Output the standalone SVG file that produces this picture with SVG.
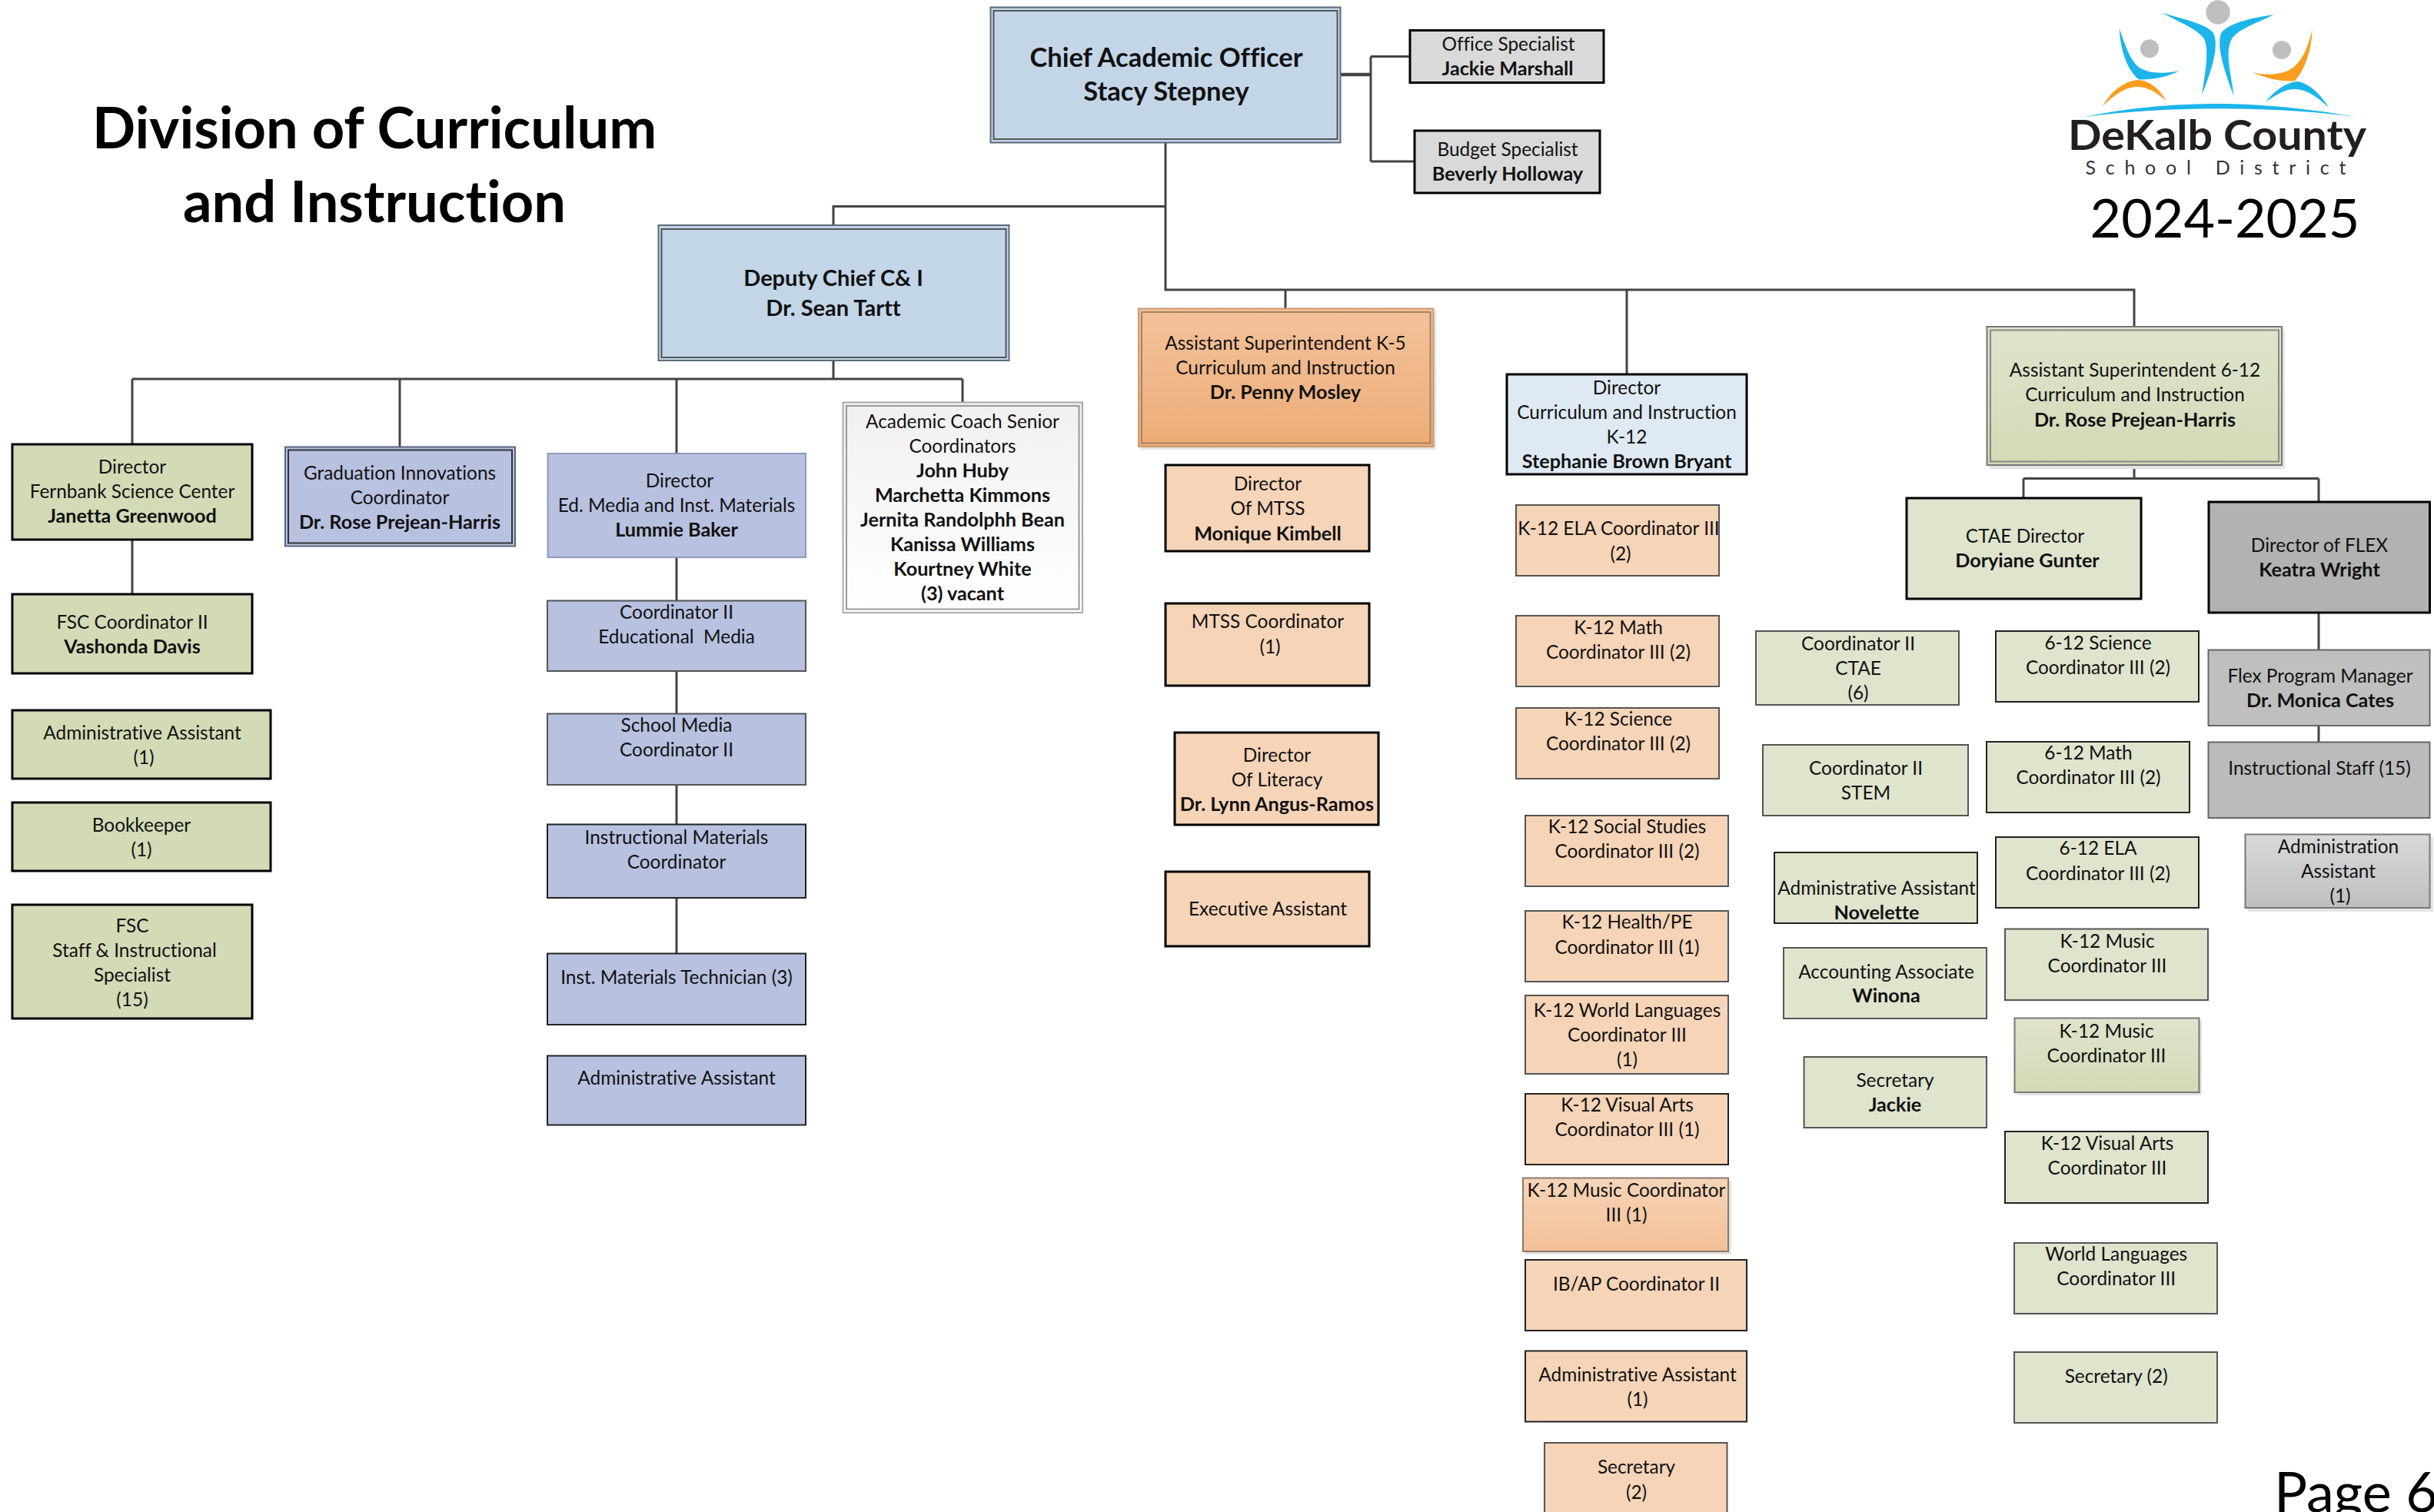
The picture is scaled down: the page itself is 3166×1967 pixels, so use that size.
<svg xmlns="http://www.w3.org/2000/svg" width="3166" height="1967" viewBox="0 0 3166 1967">
<style>
text{font-family:Lato,"Carlito","Open Sans",sans-serif;font-size:24.4px;fill:#111;text-anchor:middle;font-variant-ligatures:none}
.b{font-weight:700;font-size:25.2px}
.top{font-size:34.5px;font-weight:700}
.dep{font-size:29px;font-weight:700}
.sm{stroke:#000;stroke-width:3}
.th{stroke:#555;stroke-width:2}
.thb{stroke:#222;stroke-width:2}
.inner{fill:none;stroke:#555;stroke-width:2}
.sh{fill:#e4e4e4}
.pe{fill:#F6D4B8}
.gr{fill:#DFE4CD}
.ol{fill:#D3DBB6}
.pu{fill:#B8C1E0}
.c path{fill:none;stroke:#444;stroke-width:3}
.c .w{stroke-width:4.5}
.logo-b{fill:#1CB5EA}
.logo-o{fill:#F99D1F}
.logo-g{fill:#BCBEC0}
</style>
<defs>
<linearGradient id="gK5" x1="0" y1="0" x2="0" y2="1"><stop offset="0" stop-color="#F3C29B"/><stop offset="1" stop-color="#EDAC77"/></linearGradient>
<linearGradient id="g612" x1="0" y1="0" x2="0" y2="1"><stop offset="0" stop-color="#DFE4CD"/><stop offset="1" stop-color="#D2DAB5"/></linearGradient>
<linearGradient id="gGrey" x1="0" y1="0" x2="0" y2="1"><stop offset="0" stop-color="#D9D9D9"/><stop offset="1" stop-color="#BFBFBF"/></linearGradient>
<linearGradient id="gPe" x1="0" y1="0" x2="0" y2="1"><stop offset="0" stop-color="#F6D4B8"/><stop offset="1" stop-color="#F2C097"/></linearGradient>
<linearGradient id="gWh" x1="0" y1="0" x2="0" y2="1"><stop offset="0" stop-color="#F0F0F0"/><stop offset="1" stop-color="#FFFFFF"/></linearGradient>
</defs>

<text id="title1" class="b" x="487" y="193" style="font-size:74px;fill:#000">Division of Curriculum</text>
<text id="title2" class="b" x="487" y="289" style="font-size:74px;fill:#000">and Instruction</text>

<g id="connectors" class="c">
<path class="w" d="M1744 97H1783"/>
<path d="M1783 73.5V210M1783 73.5H1834M1783 210H1840"/>
<path d="M1516 186V377H2776V425M1516 268.5H1084V293"/>
<path d="M1672 377V401M2116 377V486"/>
<path d="M1084 469V493M172 493H1252"/>
<path d="M172 493V577M520 493V581M880 493V589M1252 493V523"/>
<path d="M172 702V772"/>
<path d="M880 725V781M880 873V928M880 1021V1072M880 1168V1240"/>
<path d="M2776 605V622.5M2632 622.5H3016M2632 622.5V647M3016 622.5V652"/>
<path d="M3016 797V845M3016 944V965"/>
</g>

<g id="n-cao"><rect x="1288.500" y="9.500" width="455" height="176" fill="#C3D6E8" stroke="#5a6a7a" stroke-width="2"/><rect class="inner" x="1292.500" y="14" width="447" height="167"/><text class="top" x="1517" y="87">Chief Academic Officer</text><text class="top" x="1517" y="131">Stacy Stepney</text></g>
<g id="n-office"><rect class="sm" x="1834" y="39.500" width="252" height="68" fill="#D9D9D9"/><text x="1962" y="66">Office Specialist</text><text class="b" x="1961" y="98">Jackie Marshall</text></g>
<g id="n-budget"><rect class="sm" x="1840" y="170" width="241" height="81" fill="#D9D9D9"/><text x="1961" y="203">Budget Specialist</text><text class="b" x="1961" y="235">Beverly Holloway</text></g>
<g id="n-deputy"><rect x="856.500" y="293" width="456" height="176" fill="#C3D6E8" stroke="#5a6a7a" stroke-width="2"/><rect class="inner" x="860.500" y="298" width="448" height="167"/><text class="dep" x="1084" y="372">Deputy Chief C&amp; I</text><text class="dep" x="1084" y="411">Dr. Sean Tartt</text></g>

<g id="n-fernbank"><rect class="sm ol" x="16" y="578" width="312" height="124"/><text x="172" y="616">Director</text><text x="172" y="648">Fernbank Science Center</text><text class="b" x="172" y="680">Janetta Greenwood</text></g>
<g id="n-fsc2"><rect class="sm ol" x="16" y="773" width="312" height="103"/><text x="172" y="817.500">FSC Coordinator II</text><text class="b" x="172" y="849.500">Vashonda Davis</text></g>
<g id="n-fadmin"><rect class="sm ol" x="16" y="924" width="336" height="89"/><text x="185" y="961.500">Administrative Assistant</text><text x="187" y="993.500">(1)</text></g>
<g id="n-book"><rect class="sm ol" x="16" y="1044" width="336" height="89"/><text x="184" y="1081.700">Bookkeeper</text><text x="184" y="1113.700">(1)</text></g>
<g id="n-fstaff"><rect class="sm ol" x="16" y="1177" width="312" height="148"/><text x="172" y="1212.600">FSC</text><text x="175" y="1244.600">Staff &amp; Instructional</text><text x="172" y="1276.600">Specialist</text><text x="172" y="1308.600">(15)</text></g>

<g id="n-grad"><rect class="pu" x="371" y="581.500" width="299" height="129" stroke="#5a6480" stroke-width="2"/><rect class="inner" x="375" y="585.500" width="291" height="121" style="stroke:#333"/><text x="520" y="623.500">Graduation Innovations</text><text x="520" y="656">Coordinator</text><text class="b" x="520" y="688">Dr. Rose Prejean-Harris</text></g>
<g id="n-edmedia"><rect class="pu" x="712.500" y="590" width="335.500" height="135" stroke="#8e99bb" stroke-width="2"/><text x="884" y="634">Director</text><text x="880" y="666">Ed. Media and Inst. Materials</text><text class="b" x="880" y="698">Lummie Baker</text></g>
<g id="n-coored"><rect class="pu th" x="712" y="781.500" width="336" height="91.500"/><text x="880" y="804.500">Coordinator II</text><text x="880" y="836.500" xml:space="preserve">Educational  Media</text></g>
<g id="n-school"><rect class="pu th" x="712" y="928.500" width="336" height="92.500"/><text x="880" y="952">School Media</text><text x="880" y="984">Coordinator II</text></g>
<g id="n-instmat"><rect class="pu thb" x="712" y="1072.500" width="336" height="95.500"/><text x="880" y="1097.700">Instructional Materials</text><text x="880" y="1129.700">Coordinator</text></g>
<g id="n-tech"><rect class="pu thb" x="712" y="1240.500" width="336" height="92.500"/><text x="880" y="1279.500">Inst. Materials Technician (3)</text></g>
<g id="n-padmin"><rect class="pu thb" x="712" y="1373.500" width="336" height="90"/><text x="880" y="1411">Administrative Assistant</text></g>

<g id="n-coach"><rect x="1096.500" y="523.500" width="311.500" height="273.500" fill="url(#gWh)" stroke="#aaa" stroke-width="2"/><rect class="inner" x="1101" y="528" width="302.500" height="264.500" style="stroke:#999"/><text x="1252" y="557">Academic Coach Senior</text><text x="1252" y="589">Coordinators</text><text class="b" x="1252" y="621">John Huby</text><text class="b" x="1252" y="653">Marchetta Kimmons</text><text class="b" x="1252" y="685">Jernita Randolphh Bean</text><text class="b" x="1252" y="717">Kanissa Williams</text><text class="b" x="1252" y="749">Kourtney White</text><text class="b" x="1252" y="781">(3) vacant</text></g>

<g id="n-k5"><rect class="sh" x="1484" y="405" width="384" height="180"/><rect x="1481" y="401.500" width="383.500" height="179.500" fill="url(#gK5)" stroke="#C79A72" stroke-width="2"/><rect class="inner" x="1485" y="406" width="375.500" height="170.500" style="stroke:#A9805F"/><text x="1672" y="455">Assistant Superintendent K-5</text><text x="1672" y="487">Curriculum and Instruction</text><text class="b" x="1672" y="519">Dr. Penny Mosley</text></g>
<g id="n-mtss"><rect class="sm pe" x="1516" y="605" width="265" height="112"/><text x="1649" y="638">Director</text><text x="1649" y="670">Of MTSS</text><text class="b" x="1649" y="702.500">Monique Kimbell</text></g>
<g id="n-mtssc"><rect class="sm pe" x="1516" y="785" width="265" height="107"/><text x="1649" y="817">MTSS Coordinator</text><text x="1652" y="849.500">(1)</text></g>
<g id="n-lit"><rect class="sm pe" x="1528" y="953" width="265" height="120"/><text x="1661" y="991">Director</text><text x="1661" y="1023">Of Literacy</text><text class="b" x="1661" y="1055">Dr. Lynn Angus-Ramos</text></g>
<g id="n-exec"><rect class="sm pe" x="1516" y="1134" width="265" height="97"/><text x="1649" y="1191">Executive Assistant</text></g>

<g id="n-dci"><rect class="sm" x="1960" y="487" width="312" height="130" fill="#DFE9F3"/><text x="2116" y="513">Director</text><text x="2116" y="545">Curriculum and Instruction</text><text x="2116" y="577">K-12</text><text class="b" x="2116" y="609">Stephanie Brown Bryant</text></g>
<g id="n-ela"><rect class="pe th" x="1972" y="657" width="264" height="92"/><text x="2105.500" y="696">K-12 ELA Coordinator III</text><text x="2108" y="729">(2)</text></g>
<g id="n-math"><rect class="pe th" x="1972" y="801" width="264" height="92"/><text x="2105" y="824.500">K-12 Math</text><text x="2105" y="856.600">Coordinator III (2)</text></g>
<g id="n-sci"><rect class="pe th" x="1972" y="921" width="264" height="92"/><text x="2105" y="944">K-12 Science</text><text x="2105" y="976">Coordinator III (2)</text></g>
<g id="n-soc"><rect class="pe th" x="1984" y="1061" width="264" height="92"/><text x="2116.500" y="1084">K-12 Social Studies</text><text x="2116.500" y="1116">Coordinator III (2)</text></g>
<g id="n-hpe"><rect class="pe th" x="1984" y="1185" width="264" height="92"/><text x="2116.500" y="1208">K-12 Health/PE</text><text x="2116.500" y="1240.500">Coordinator III (1)</text></g>
<g id="n-wl"><rect class="pe th" x="1984" y="1295" width="264" height="102"/><text x="2116.500" y="1322.500">K-12 World Languages</text><text x="2116.500" y="1354.500">Coordinator III</text><text x="2116.500" y="1387">(1)</text></g>
<g id="n-va"><rect class="pe thb" x="1984" y="1423" width="264" height="92"/><text x="2116.500" y="1446">K-12 Visual Arts</text><text x="2116.500" y="1478">Coordinator III (1)</text></g>
<g id="n-mus"><rect class="sh" x="1984" y="1536" width="268" height="96"/><rect x="1981" y="1532.500" width="267" height="95.500" fill="url(#gPe)" stroke="#8a7a6a" stroke-width="2"/><text x="2115.500" y="1557">K-12 Music Coordinator</text><text x="2115.500" y="1589">III (1)</text></g>
<g id="n-ib"><rect class="pe thb" x="1984" y="1639" width="288" height="92"/><text x="2128.500" y="1678.600">IB/AP Coordinator II</text></g>
<g id="n-kadmin"><rect class="pe thb" x="1984" y="1757.500" width="288" height="92"/><text x="2130" y="1797">Administrative Assistant</text><text x="2130" y="1829">(1)</text></g>
<g id="n-ksec"><rect class="pe th" x="2009" y="1877" width="237.500" height="100"/><text x="2128.500" y="1917">Secretary</text><text x="2128.500" y="1949.500">(2)</text></g>

<g id="n-612"><rect class="sh" x="2588" y="429" width="384" height="181"/><rect x="2584.500" y="425" width="383.500" height="180" fill="url(#g612)" stroke="#777" stroke-width="2"/><rect class="inner" x="2589" y="429.500" width="375" height="171" style="stroke:#888"/><text x="2777" y="490">Assistant Superintendent 6-12</text><text x="2777" y="522">Curriculum and Instruction</text><text class="b" x="2777" y="555">Dr. Rose Prejean-Harris</text></g>
<g id="n-ctae"><rect class="sm gr" x="2480" y="648" width="305" height="131"/><text x="2634" y="706">CTAE Director</text><text class="b" x="2637" y="738">Doryiane Gunter</text></g>
<g id="n-flex"><rect class="sm" x="2873" y="653" width="287.500" height="144" fill="#B2B2B2"/><text x="3017" y="718">Director of FLEX</text><text class="b" x="3017" y="750">Keatra Wright</text></g>
<g id="n-flexm"><rect x="2872.500" y="845.500" width="288" height="98.500" fill="#BFBFBF" stroke="#666" stroke-width="2"/><text x="3018" y="888">Flex Program Manager</text><text class="b" x="3018" y="920">Dr. Monica Cates</text></g>
<g id="n-flexs"><rect x="2872.500" y="965.500" width="288" height="98.500" fill="#BBBBBB" stroke="#666" stroke-width="2"/><text x="3017" y="1008">Instructional Staff (15)</text></g>
<g id="n-flexa"><rect class="sh" x="2924" y="1089" width="241" height="97"/><rect x="2920.500" y="1085.500" width="240" height="95.500" fill="url(#gGrey)" stroke="#777" stroke-width="2"/><text x="3041.500" y="1110">Administration</text><text x="3041.500" y="1142">Assistant</text><text x="3044" y="1174">(1)</text></g>

<g id="n-c2ctae"><rect class="gr th" x="2284" y="821" width="264" height="96"/><text x="2417" y="846">Coordinator II</text><text x="2417" y="878">CTAE</text><text x="2417" y="910">(6)</text></g>
<g id="n-c2stem"><rect class="gr th" x="2293" y="969" width="267" height="92"/><text x="2427" y="1008">Coordinator II</text><text x="2427" y="1040">STEM</text></g>
<g id="n-nov"><rect class="gr thb" x="2308" y="1109" width="264" height="92"/><text x="2441" y="1164">Administrative Assistant</text><text class="b" x="2441" y="1196">Novelette</text></g>
<g id="n-win"><rect class="gr th" x="2320" y="1233" width="264" height="92"/><text x="2453.500" y="1272.700">Accounting Associate</text><text class="b" x="2453.500" y="1304">Winona</text></g>
<g id="n-sec"><rect class="gr th" x="2346.500" y="1375" width="237.500" height="92"/><text x="2465" y="1414">Secretary</text><text class="b" x="2465" y="1446">Jackie</text></g>

<g id="n-6sci"><rect class="gr thb" x="2596" y="821" width="264" height="92"/><text x="2729" y="844.500">6-12 Science</text><text x="2729" y="876.700">Coordinator III (2)</text></g>
<g id="n-6math"><rect class="gr thb" x="2584" y="965" width="264" height="92"/><text x="2716.500" y="988">6-12 Math</text><text x="2716.500" y="1020.400">Coordinator III (2)</text></g>
<g id="n-6ela"><rect class="gr thb" x="2596" y="1089" width="264" height="92"/><text x="2729" y="1112.400">6-12 ELA</text><text x="2729" y="1144.600">Coordinator III (2)</text></g>
<g id="n-6mus"><rect class="gr th" x="2608" y="1208.500" width="264" height="92.500"/><text x="2741" y="1232.500">K-12 Music</text><text x="2741" y="1264.600">Coordinator III</text></g>
<g id="n-6mus2"><rect class="sh" x="2624" y="1328" width="240" height="97"/><rect x="2620.500" y="1324.500" width="240" height="96.500" fill="url(#g612)" stroke="#777" stroke-width="2"/><text x="2740" y="1350">K-12 Music</text><text x="2740" y="1381.700">Coordinator III</text></g>
<g id="n-6va"><rect class="gr thb" x="2608" y="1472" width="264" height="93"/><text x="2741" y="1495.700">K-12 Visual Arts</text><text x="2741" y="1527.600">Coordinator III</text></g>
<g id="n-6wl"><rect class="gr th" x="2620" y="1617" width="264" height="92"/><text x="2752.700" y="1640">World Languages</text><text x="2752.700" y="1672">Coordinator III</text></g>
<g id="n-6sec"><rect class="gr th" x="2620" y="1759" width="264" height="92"/><text x="2752.700" y="1798.500">Secretary (2)</text></g>

<g id="logo">
<g transform="translate(2640 0) scale(.33333)">
<circle class="logo-g" cx="735" cy="48" r="47"/>
<circle class="logo-g" cx="468" cy="190" r="36"/>
<circle class="logo-g" cx="984" cy="195" r="36"/>
<path class="logo-b" d="M518 50C600 75 680 90 715 125C735 160 730 230 672 370C690 260 700 190 680 150C650 110 590 90 518 50Z"/>
<path class="logo-b" d="M952 57C870 70 790 85 750 125C730 160 745 240 797 375C785 280 760 200 790 150C820 110 880 95 952 57Z"/>
<path class="logo-b" d="M350 112C375 180 395 250 440 270C480 290 540 285 583 277C540 300 480 312 425 310C380 270 355 200 350 112Z"/>
<path class="logo-o" d="M285 415C320 350 375 315 425 312C470 315 510 350 532 393C490 355 450 335 410 340C370 342 325 375 285 415Z"/>
<path class="logo-o" d="M1103 115C1085 190 1060 250 1010 275C960 295 915 292 870 282C920 305 975 318 1035 316C1075 270 1100 200 1103 115Z"/>
<path class="logo-b" d="M920 398C960 350 1005 320 1045 318C1095 325 1140 375 1168 420C1120 375 1075 345 1030 348C990 350 955 375 920 398Z"/>
<path class="logo-b" d="M212 457C400 415 600 405 740 405C900 405 1100 425 1283 458C1100 432 900 425 740 424C580 424 400 432 212 457Z"/>
</g>
<text class="b" x="2884" y="195" textLength="388" lengthAdjust="spacingAndGlyphs" style="font-size:53px;fill:#231F20">DeKalb County</text>
<text x="2882" y="226.500" textLength="339" lengthAdjust="spacing" style="font-size:25px;fill:#333">School District</text>
</g>
<text id="year" x="2894" y="309" style="font-size:70px;fill:#000">2024-2025</text>
<text id="page" x="2958" y="1967" style="font-size:72px;fill:#000;text-anchor:start">Page 6</text>
</svg>
